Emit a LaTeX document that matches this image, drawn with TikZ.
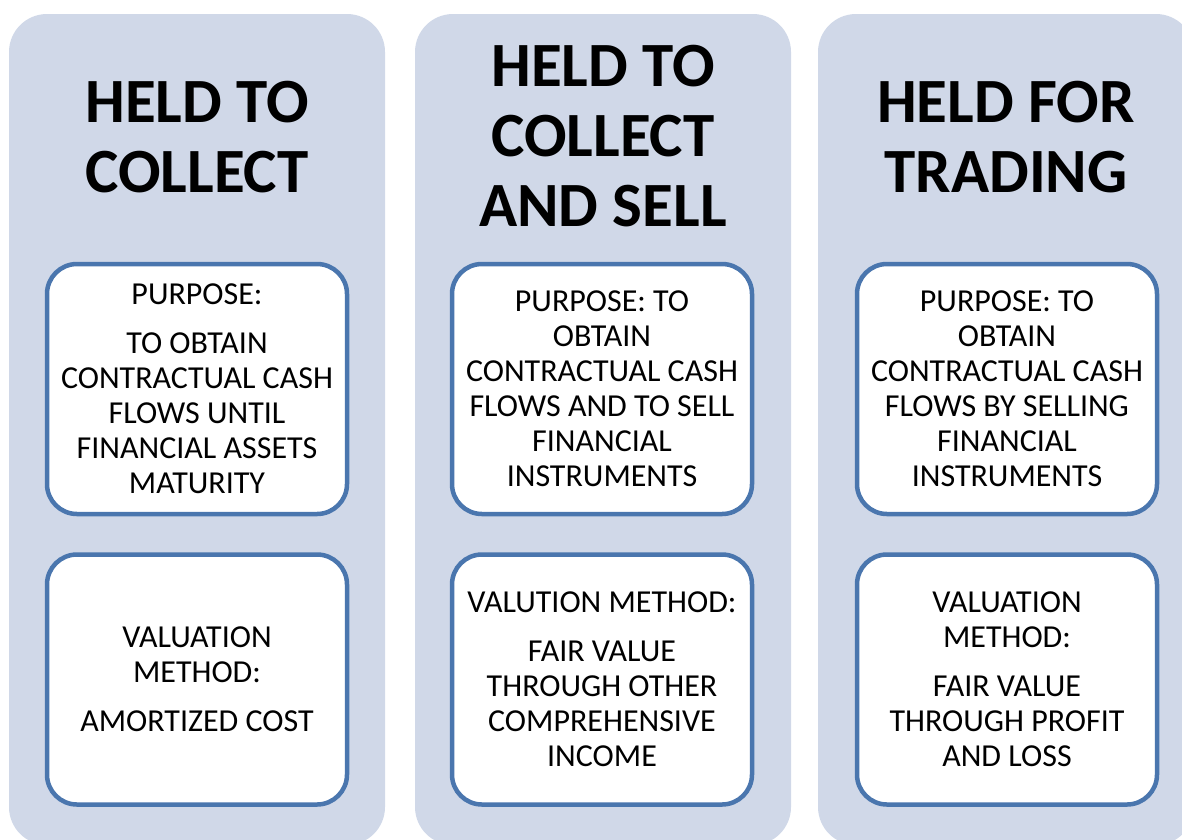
\documentclass[tikz,border=0pt]{standalone}
\usepackage{fontspec}
\setmainfont{Carlito}
\definecolor{colfill}{RGB}{208,216,232}
\definecolor{boxline}{RGB}{74,118,174}

\tikzset{
    column/.style={fill=colfill, rounded corners=38pt},
    title/.style={font=\bfseries\fontsize{63}{70}\selectfont, align=center, inner sep=0pt},
    infobox/.style={draw=boxline, line width=4.5pt, fill=white, rounded corners=30pt,
        minimum width=300pt, minimum height=250pt, inner sep=0pt,
        align=center, font=\fontsize{32}{35}\selectfont},
}

\begin{document}
\begin{tikzpicture}[x=1pt,y=-1pt]
\useasboundingbox (0,0) rectangle (1182,839);
\clip (0,0) rectangle (1182,839);

\foreach \x in {9,415,818} {
    \fill [column] (\x,14) rectangle ++(376,831);
}

% titles
\node [title] (collect) at (197,137) {HELD TO\\COLLECT};
\node [title] (collectsell) at (603,136) {HELD TO\\COLLECT\\AND SELL};
\node [title] (trading) at (1006,137) {HELD FOR\\TRADING};

% purpose
\node [infobox] (purpose1) at (197,389) {PURPOSE:\\[14pt]TO OBTAIN\\CONTRACTUAL CASH\\FLOWS UNTIL\\FINANCIAL ASSETS\\MATURITY};
\node [infobox] (purpose2) at (602,389) {PURPOSE: TO\\OBTAIN\\CONTRACTUAL CASH\\FLOWS AND TO SELL\\FINANCIAL\\INSTRUMENTS};
\node [infobox] (purpose3) at (1007,389) {PURPOSE: TO\\OBTAIN\\CONTRACTUAL CASH\\FLOWS BY SELLING\\FINANCIAL\\INSTRUMENTS};

% valuation
\node [infobox] (method1) at (197,679.5) {VALUATION\\METHOD:\\[14pt]AMORTIZED COST};
\node [infobox] (method2) at (602,679.5) {VALUTION METHOD:\\[14pt]FAIR VALUE\\THROUGH OTHER\\COMPREHENSIVE\\INCOME};
\node [infobox] (method3) at (1007,679.5) {VALUATION\\METHOD:\\[14pt]FAIR VALUE\\THROUGH PROFIT\\AND LOSS};

\end{tikzpicture}
\end{document}
